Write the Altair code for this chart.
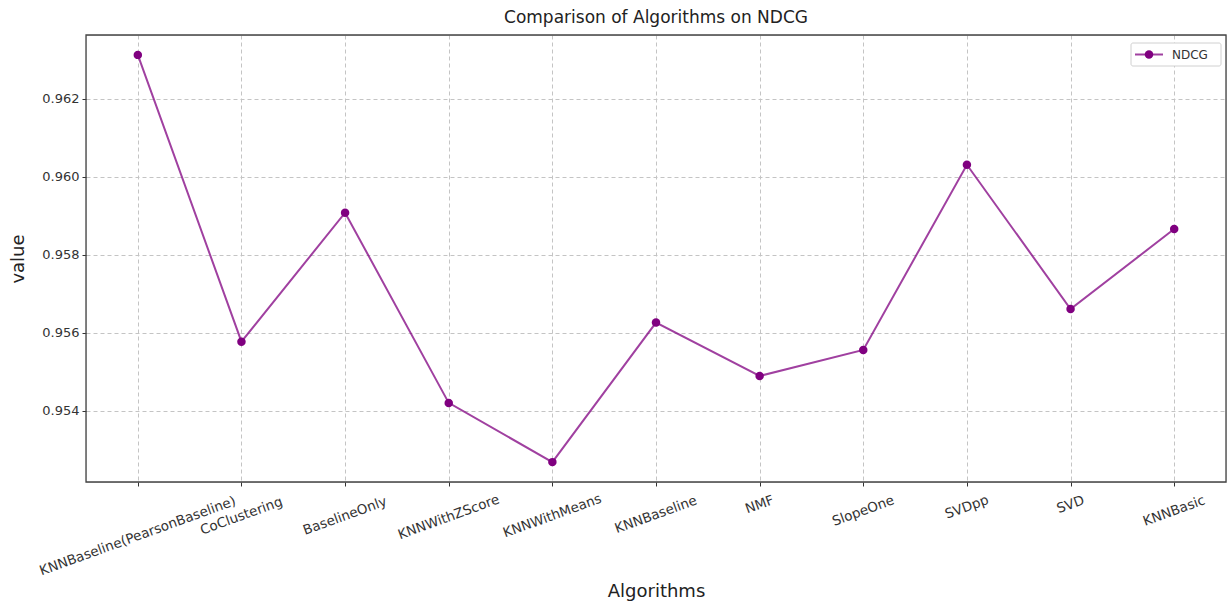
import altair as alt
import pandas as pd

# NDCG score per recommendation algorithm
algorithms = [
    "KNNBaseline(PearsonBaseline)", "CoClustering", "BaselineOnly",
    "KNNWithZScore", "KNNWithMeans", "KNNBaseline", "NMF", "SlopeOne",
    "SVDpp", "SVD", "KNNBasic",
]
ndcg = [0.96313, 0.95577, 0.95908, 0.95420, 0.95268, 0.95626,
        0.95489, 0.95556, 0.96031, 0.95661, 0.95866]
y_ticks = [0.954, 0.956, 0.958, 0.960, 0.962]
y_domain = [0.95217, 0.96364]

df = pd.DataFrame({"Algorithm": algorithms, "NDCG": ndcg})

W, H = 1140, 447
FONT = "DejaVu Sans"
PURPLE = "#800080"

x_enc = alt.X(
    "Algorithm:N", sort=algorithms, title="Algorithms",
    scale=alt.Scale(type="point", padding=0.5),
    axis=alt.Axis(labels=False, ticks=True, tickSize=4, tickColor="#333",
                  domain=False, grid=True, gridDash=[4, 3], gridColor="#c4c4c4",
                  titleFontSize=18, titleFont=FONT, titleFontWeight="normal",
                  titleColor="#222", titlePadding=96),
)
y_enc = alt.Y(
    "NDCG:Q", title="value",
    scale=alt.Scale(domain=y_domain, nice=False, zero=False),
    axis=alt.Axis(values=y_ticks, format=".3f", tickSize=4, tickColor="#333",
                  domain=False, grid=True, gridDash=[4, 3], gridColor="#c4c4c4",
                  labelFontSize=13, labelFont=FONT, labelColor="#333", labelPadding=3,
                  titleFontSize=18, titleFont=FONT, titleFontWeight="normal",
                  titleColor="#222", titlePadding=14),
)

base = alt.Chart(df)

line = base.mark_line(color=PURPLE, strokeWidth=2, opacity=0.75).encode(x=x_enc, y=y_enc)
points = base.mark_point(filled=True, color=PURPLE, size=72, opacity=1).encode(
    x=alt.X("Algorithm:N", sort=algorithms), y="NDCG:Q"
)

# Rotated category labels, centred under their ticks; longer names sit lower
labels = (
    base.transform_calculate(ly="466 + 1.26 * length(datum.Algorithm)")
    .mark_text(angle=340, align="center", baseline="middle", fontSize=13.5,
               font=FONT, color="#333")
    .encode(x=alt.X("Algorithm:N", sort=algorithms),
            y=alt.Y("ly:Q", scale=None),
            text="Algorithm:N")
)

one = pd.DataFrame({"a": [0]})

# Dark frame around the plotting area
frame = alt.Chart(one).mark_rect(fill=None, stroke="#444", strokeWidth=1.3).encode(
    x=alt.value(0), x2=alt.value(W), y=alt.value(0), y2=alt.value(H)
)

# Legend box in the upper right corner
leg_box = alt.Chart(one).mark_rect(
    fill="white", stroke="#d0d0d0", strokeWidth=1, cornerRadius=2
).encode(x=alt.value(1045), x2=alt.value(1135), y=alt.value(8), y2=alt.value(31))
leg_line = alt.Chart(one).mark_rule(
    color=PURPLE, strokeWidth=2, opacity=0.75
).encode(x=alt.value(1049), x2=alt.value(1077), y=alt.value(19.5))
leg_pt = alt.Chart(one).mark_point(
    filled=True, color=PURPLE, size=72, opacity=1
).encode(x=alt.value(1063), y=alt.value(19.5))
leg_txt = alt.Chart(pd.DataFrame({"t": ["NDCG"]})).mark_text(
    align="left", baseline="middle", fontSize=12, font=FONT, color="#333"
).encode(x=alt.value(1086), y=alt.value(19.5), text="t:N")

chart = (
    alt.layer(line, points, labels, frame, leg_box, leg_line, leg_pt, leg_txt)
    .properties(
        width=W, height=H,
        title=alt.TitleParams("Comparison of Algorithms on NDCG", fontSize=17,
                              font=FONT, fontWeight="normal", color="#222",
                              anchor="middle", offset=7),
        autosize=alt.AutoSizeParams(type="none"),
        padding={"left": 86, "top": 35, "right": 6, "bottom": 126},
    )
    .configure_view(stroke=None)
    .configure(background="white")
)

chart.save("out.html", embed_options={"renderer": "svg", "actions": False})
